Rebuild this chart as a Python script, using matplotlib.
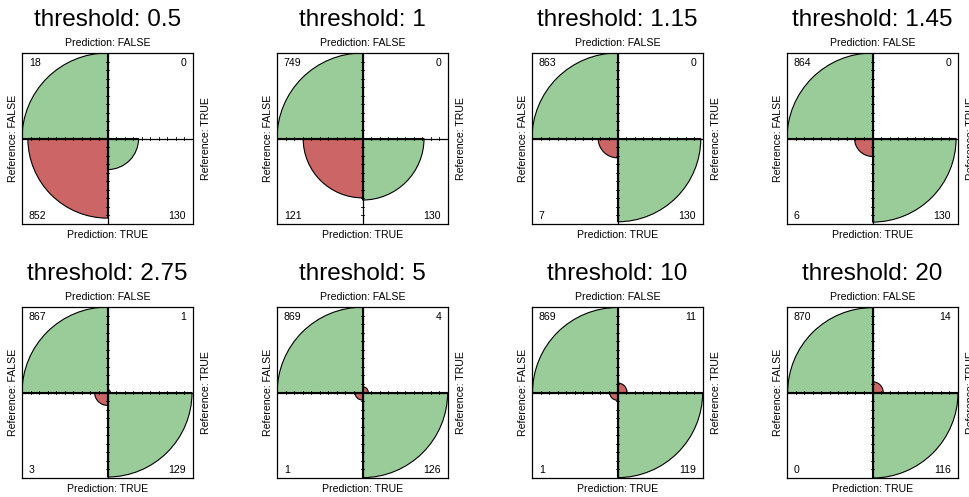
import numpy as np
import matplotlib
matplotlib.use("Agg")
import matplotlib.pyplot as plt
from matplotlib.patches import Wedge

plt.rcParams['font.family'] = ['Liberation Sans', 'DejaVu Sans']

# confusion tables: rows = Prediction (FALSE, TRUE), cols = Reference (FALSE, TRUE)
thresholds = ["0.5", "1", "1.15", "1.45", "2.75", "5", "10", "20"]
pred_false_ref_false = [18, 749, 863, 864, 867, 869, 869, 870]
pred_false_ref_true = [0, 0, 0, 0, 1, 4, 11, 14]
pred_true_ref_false = [852, 121, 7, 6, 3, 1, 1, 0]
pred_true_ref_true = [130, 130, 130, 130, 129, 126, 119, 116]

green = "#99CC99"
red = "#CC6666"

W, H = 969, 497
fig = plt.figure(figsize=(W / 100, H / 100), dpi=100)

box = 171
col_x = [22, 277, 532, 787]
row_y = [53, 307]

def fx(px):
    return px / W

def fy(py):
    return 1 - py / H

for i, thr in enumerate(thresholds):
    r, c = divmod(i, 4)
    x0, y0 = col_x[c], row_y[r]
    ax = fig.add_axes([fx(x0), fy(y0 + box), box / W, box / H])
    ax.set_xlim(-1, 1)
    ax.set_ylim(-1, 1)
    ax.set_xticks([])
    ax.set_yticks([])
    for s in ax.spines.values():
        s.set_linewidth(0.9)

    tab = np.array([[pred_false_ref_false[i], pred_false_ref_true[i]],
                    [pred_true_ref_false[i], pred_true_ref_true[i]]], dtype=float)
    prop = tab / tab.sum(axis=1, keepdims=True)  # standardised by rows
    radius = np.sqrt(prop)

    # (row, col, theta1, theta2, colour)
    cells = [(0, 0, 90, 180, green), (0, 1, 0, 90, red),
             (1, 0, 180, 270, red), (1, 1, 270, 360, green)]
    for rr, cc, t1, t2, col in cells:
        if radius[rr, cc] > 0:
            ax.add_patch(Wedge((0, 0), radius[rr, cc], t1, t2, facecolor=col,
                               edgecolor="black", linewidth=0.8))

    ax.axhline(0, color="black", lw=0.9)
    ax.axvline(0, color="black", lw=0.9)
    ticks = np.r_[-0.9:-0.05:0.1, 0.1:0.95:0.1]
    for t in ticks:
        ax.plot([t, t], [-0.022, 0.022], color="black", lw=0.6)
        ax.plot([-0.022, 0.022], [t, t], color="black", lw=0.6)

    fs = 7.6
    ax.text(-0.92, 0.88, f"{int(tab[0, 0])}", ha="left", va="center", fontsize=fs)
    ax.text(0.92, 0.88, f"{int(tab[0, 1])}", ha="right", va="center", fontsize=fs)
    ax.text(-0.92, -0.91, f"{int(tab[1, 0])}", ha="left", va="center", fontsize=fs)
    ax.text(0.92, -0.91, f"{int(tab[1, 1])}", ha="right", va="center", fontsize=fs)

    cx = x0 + box / 2
    cy = y0 + box / 2
    fig.text(fx(cx), fy(y0 - 27), f"threshold: {thr}", ha="center",
             va="baseline", fontsize=17.5)
    fig.text(fx(cx), fy(y0 - 10), "Prediction: FALSE", ha="center",
             va="center", fontsize=fs)
    fig.text(fx(cx), fy(y0 + box + 11), "Prediction: TRUE", ha="center",
             va="center", fontsize=fs)
    fig.text(fx(x0 - 9), fy(cy), "Reference: FALSE", ha="center",
             va="center", rotation=90, fontsize=fs)
    # the last column's right label runs off the edge, as in the original
    fig.text(fx(x0 + box + 13), fy(cy), "Reference: TRUE", ha="center",
             va="center", rotation=90, fontsize=fs)

fig.savefig("out.png", dpi=100)
